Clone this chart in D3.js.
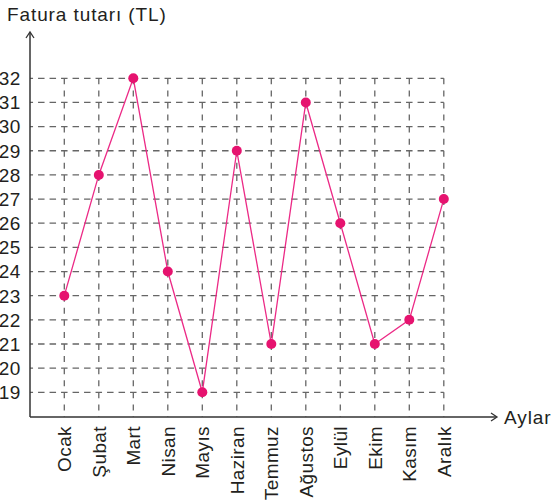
<!DOCTYPE html>
<html>
<head>
<meta charset="utf-8">
<script src="https://cdn.jsdelivr.net/npm/d3@7"></script>
<style>
  body { margin: 0; background: #fff; }
  text { font-family: "Liberation Sans", Arial, sans-serif; fill: #231f20; }
</style>
</head>
<body>
<div id="chart"></div>
<script>
const months = ['Ocak', 'Şubat', 'Mart', 'Nisan', 'Mayıs', 'Haziran', 'Temmuz', 'Ağustos', 'Eylül', 'Ekim', 'Kasım', 'Aralık'];
const amounts = [23, 28, 32, 24, 19, 29, 21, 31, 26, 21, 22, 27];
const yTicks = [19, 20, 21, 22, 23, 24, 25, 26, 27, 28, 29, 30, 31, 32];

const W = 553, H = 503;
const originX = 30, originY = 417;

const svg = d3.select('#chart').append('svg')
  .attr('width', W).attr('height', H);

const x = d3.scalePoint().domain(months).range([64.3, 443.8]);
const y = d3.scaleLinear().domain([19, 32]).range([392.3, 78.3]);

const gridColor = '#666';
const hPeriod = (x(months[1]) - x(months[0])) / 3;
const vPeriod = (y(19) - y(20)) / 2;

// horizontal dashed grid, dash centred on each column
svg.append('g').selectAll('line')
  .data(yTicks)
  .enter().append('line')
  .attr('x1', originX).attr('x2', x(months[months.length - 1]))
  .attr('y1', d => y(d)).attr('y2', d => y(d))
  .attr('stroke', gridColor).attr('stroke-width', 1.3)
  .attr('stroke-dasharray', '6.5,' + (hPeriod - 6.5))
  .attr('stroke-dashoffset', () => {
    const start = x(months[0]) - 3.25 - originX;
    return hPeriod - (start % hPeriod);
  });

// vertical dashed grid
svg.append('g').selectAll('line')
  .data(months)
  .enter().append('line')
  .attr('x1', d => x(d)).attr('x2', d => x(d))
  .attr('y1', y(32)).attr('y2', originY)
  .attr('stroke', gridColor).attr('stroke-width', 1.3)
  .attr('stroke-dasharray', '6,' + (vPeriod - 6))
  .attr('stroke-dashoffset', 0);

// axes with arrow heads
const axisColor = '#333';
svg.append('line')
  .attr('x1', originX).attr('x2', originX)
  .attr('y1', originY).attr('y2', 33)
  .attr('stroke', axisColor).attr('stroke-width', 1.5);
svg.append('path')
  .attr('d', `M${originX - 4},${38} L${originX},${32} L${originX + 4},${38}`)
  .attr('fill', 'none').attr('stroke', axisColor).attr('stroke-width', 1.3);

svg.append('line')
  .attr('x1', originX).attr('x2', 496)
  .attr('y1', originY).attr('y2', originY)
  .attr('stroke', axisColor).attr('stroke-width', 1.5);
svg.append('path')
  .attr('d', `M${491},${originY - 4} L${497},${originY} L${491},${originY + 4}`)
  .attr('fill', 'none').attr('stroke', axisColor).attr('stroke-width', 1.3);

// y tick labels
svg.append('g').selectAll('text')
  .data(yTicks)
  .enter().append('text')
  .attr('x', 21).attr('y', d => y(d))
  .attr('dy', '0.36em')
  .attr('text-anchor', 'end')
  .style('font-size', '19px')
  .style('letter-spacing', '0.6px')
  .text(d => d);

// month labels, rotated
svg.append('g').selectAll('text')
  .data(months)
  .enter().append('text')
  .attr('transform', d => `translate(${x(d) + 7},426) rotate(-90)`)
  .attr('text-anchor', 'end')
  .style('font-size', '19px')
  .style('letter-spacing', '0.4px')
  .text(d => d);

// titles
svg.append('text')
  .attr('x', 7).attr('y', 21)
  .style('font-size', '19px')
  .style('letter-spacing', '0.9px')
  .text('Fatura tutarı (TL)');

svg.append('text')
  .attr('x', 504).attr('y', 424)
  .style('font-size', '19px')
  .style('letter-spacing', '0.9px')
  .text('Aylar');

// line and points
const line = d3.line()
  .x((d, i) => x(months[i]))
  .y(d => y(d));

svg.append('path')
  .datum(amounts)
  .attr('d', line)
  .attr('fill', 'none')
  .attr('stroke', '#ec2a86')
  .attr('stroke-width', 1.3);

svg.append('g').selectAll('circle')
  .data(amounts)
  .enter().append('circle')
  .attr('cx', (d, i) => x(months[i]))
  .attr('cy', d => y(d))
  .attr('r', 5)
  .attr('fill', '#e6136f');
</script>
</body>
</html>
